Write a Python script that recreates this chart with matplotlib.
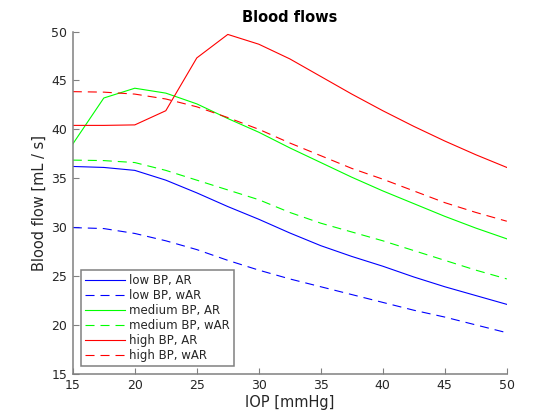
import matplotlib
matplotlib.use("Agg")
import matplotlib.pyplot as plt

iop = [15, 17.5, 20, 22.5, 25, 27.5, 30, 32.5, 35, 37.5, 40, 42.5, 45, 47.5, 50]

low_ar = [36.2, 36.1, 35.8, 34.8, 33.5, 32.1, 30.8, 29.4, 28.1, 27.0, 26.0, 24.9, 23.9, 23.0, 22.1]
low_war = [29.95, 29.85, 29.35, 28.6, 27.7, 26.6, 25.6, 24.7, 23.9, 23.1, 22.3, 21.5, 20.8, 20.0, 19.2]
med_ar = [38.5, 43.2, 44.2, 43.7, 42.6, 41.1, 39.7, 38.1, 36.6, 35.1, 33.7, 32.4, 31.1, 29.9, 28.8]
med_war = [36.85, 36.8, 36.6, 35.8, 34.8, 33.8, 32.8, 31.5, 30.4, 29.5, 28.6, 27.6, 26.6, 25.6, 24.7]
high_ar = [40.4, 40.4, 40.45, 41.9, 47.3, 49.7, 48.7, 47.2, 45.4, 43.6, 41.9, 40.3, 38.8, 37.4, 36.1]
high_war = [43.85, 43.8, 43.6, 43.1, 42.3, 41.2, 40.0, 38.6, 37.3, 36.0, 34.9, 33.7, 32.5, 31.5, 30.6]

labels = ["low BP, AR", "low BP, wAR", "medium BP, AR", "medium BP, wAR",
          "high BP, AR", "high BP, wAR"]
xticks = [15, 20, 25, 30, 35, 40, 45, 50]
yticks = [15, 20, 25, 30, 35, 40, 45, 50]

plt.rcParams['font.family'] = ['DejaVu Sans']
plt.rcParams['lines.scale_dashes'] = False

fig = plt.figure(figsize=(5.6, 4.2), dpi=100)
ax = fig.add_axes([0.13, 0.11, 0.775, 0.815])

series = [(low_ar, '#0000ff', '-'), (low_war, '#0000ff', '--'),
          (med_ar, '#00ff00', '-'), (med_war, '#00ff00', '--'),
          (high_ar, '#ff0000', '-'), (high_war, '#ff0000', '--')]
for (vals, col, ls), lab in zip(series, labels):
    ln, = ax.plot(iop, vals, color=col, linestyle=ls, lw=0.8, label=lab)
    if ls == '--':
        ln.set_dashes([6.5, 4.3])

ax.set_xlim(15, 50)
ax.set_ylim(15, 50)
ax.set_xticks(xticks)
ax.set_yticks(yticks)

for s in ['top', 'right']:
    ax.spines[s].set_visible(False)
for s in ['left', 'bottom']:
    ax.spines[s].set_color('#808080')
    ax.spines[s].set_linewidth(1.1)

ax.tick_params(direction='in', length=4, width=0.8, color='#808080',
               labelcolor='#262626', labelsize=9, pad=4)

ax.set_title("Blood flows", fontsize=10.5, fontweight='bold', pad=7)
ax.set_xlabel("IOP [mmHg]", fontsize=10.5, color='#262626', labelpad=2)
ax.set_ylabel("Blood flow [mL / s]", fontsize=10.5, color='#262626', labelpad=3)

leg = ax.legend(loc='lower left', bbox_to_anchor=(0.019, 0.023), borderaxespad=0,
                fontsize=8.5, frameon=True, fancybox=False, framealpha=1,
                edgecolor='#808080', handlelength=3.4, handletextpad=0.3,
                labelspacing=0.17, borderpad=0.35)
leg.get_frame().set_linewidth(1.1)
for t in leg.get_texts():
    t.set_color('#262626')

fig.savefig("out.png", dpi=100)
